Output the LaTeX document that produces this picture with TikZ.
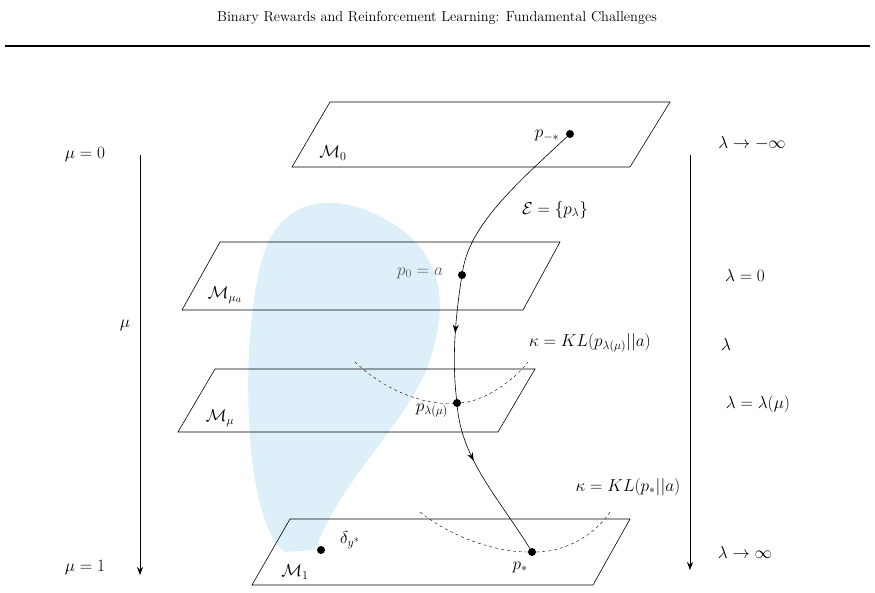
\documentclass[tikz,border=0pt]{standalone}
\usetikzlibrary{decorations.markings,arrows.meta}
\definecolor{blob}{RGB}{221,239,248}
\begin{document}
\begin{tikzpicture}[x=1pt,y=-1pt,
 plane/.style={draw,line width=0.6pt},
 dot/.style={circle,fill,inner sep=0pt,minimum size=8pt},
 lbl/.style={font=\LARGE},
 midarrows/.style={postaction={decorate},decoration={markings,
   mark=at position 0.5 with {\arrow{Stealth[length=8pt]}},
   mark=at position 0.77 with {\arrow{Stealth[length=8pt]}}}}]
\useasboundingbox (0,0) rectangle (875,593);
\node[font=\Large] (title) at (437,18) {Binary Rewards and Reinforcement Learning: Fundamental Challenges};
\draw[line width=1.3pt] (5,46) coordinate (l1) -- (870,46) coordinate (l2);
% blob
\fill[blob] (285,552) .. controls (240,520) and (240,320) .. (265,250)
 .. controls (285,195) and (340,190) .. (395,225) .. controls (440,255) and (450,300) .. (430,360)
 .. controls (410,420) and (340,480) .. (315,550) -- cycle;
% planes
\draw[plane] (330,102) -- (670,102) -- (630,167) -- (292,167) -- cycle;
\draw[plane] (220,242) -- (560,242) -- (523,310) -- (182,310) -- cycle;
\draw[plane] (215,369) -- (535,369) -- (498,432) -- (178,432) -- cycle;
\draw[plane] (290,519) -- (630,519) -- (593,585) -- (252,585) -- cycle;
\node[lbl] (m0) at (333,153) {$\mathcal{M}_0$};
\node[lbl] (ma) at (225,295) {$\mathcal{M}_{\mu_a}$};
\node[lbl] (mm) at (220,418) {$\mathcal{M}_{\mu}$};
\node[lbl] (m1) at (295,572) {$\mathcal{M}_1$};
% points
\node[dot] (pm) at (570,134) {};
\node[dot] (p0) at (462,275) {};
\node[dot] (pl) at (457,403) {};
\node[dot] (ps) at (532,552) {};
\node[dot] (dy) at (321,550) {};
\node[lbl] at (547,136) {$p_{-*}$};
\node[lbl,text=gray!70!black] at (420,273) {$p_0=a$};
\node[lbl] at (432,411) {$p_{\lambda(\mu)}$};
\node[lbl] at (520,567) {$p_*$};
\node[lbl] at (350,540) {$\delta_{y^*}$};
% curve
\draw[line width=0.6pt,midarrows] (pm) .. controls (515,185) and (470,225) .. (p0)
  .. controls (455,320) and (452,360) .. (pl)
  .. controls (462,460) and (500,500) .. (ps);
\node[lbl] at (555,210) {$\mathcal{E}=\{p_\lambda\}$};
% dashed arcs
\draw[dashed] (355,362) .. controls (390,395) and (430,405) .. (pl) .. controls (480,402) and (510,385) .. (528,362);
\draw[dashed] (420,512) .. controls (455,540) and (500,552) .. (ps) .. controls (565,552) and (595,535) .. (610,512);
\node[lbl] at (590,343) {$\kappa=KL(p_{\lambda(\mu)}||a)$};
\node[lbl] at (628,487) {$\kappa=KL(p_*||a)$};
% axes
\coordinate (la) at (140,155); \coordinate (lb) at (140,575);
\draw[line width=0.6pt,-{Stealth[length=8pt]}] (la) -- (lb);
\node[lbl] at (85,155) {$\mu=0$};
\node[lbl] at (125,325) {$\mu$};
\node[lbl] at (85,568) {$\mu=1$};
\coordinate (ra) at (690,155); \coordinate (rb) at (690,570);
\draw[line width=0.6pt,-{Stealth[length=8pt]}] (ra) -- (rb);
\node[lbl] at (752,143) {$\lambda\to-\infty$};
\node[lbl] at (745,276) {$\lambda=0$};
\node[lbl] at (726,345) {$\lambda$};
\node[lbl] at (758,404) {$\lambda=\lambda(\mu)$};
\node[lbl] at (745,552) {$\lambda\to\infty$};
\end{tikzpicture}
\end{document}
